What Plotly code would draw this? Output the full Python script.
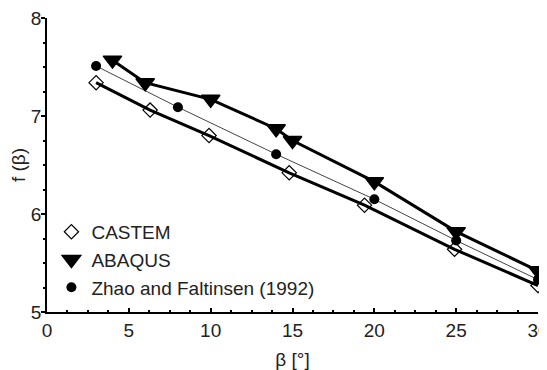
import plotly.graph_objects as go

# Data
castem_x = [3, 6.3, 9.9, 14.8, 19.4, 24.9, 30]
castem_y = [7.34, 7.06, 6.80, 6.42, 6.09, 5.64, 5.27]

abaqus_x = [4, 6, 10, 14, 15, 20, 25, 30]
abaqus_y = [7.57, 7.34, 7.17, 6.87, 6.75, 6.33, 5.82, 5.42]

zhao_x = [3, 8, 14, 20, 25, 30]
zhao_y = [7.51, 7.09, 6.61, 6.15, 5.73, 5.33]

x_ticks = [0, 5, 10, 15, 20, 25, 30]
y_ticks = [5, 6, 7, 8]

FONT = "Arial, Liberation Sans, sans-serif"

fig = go.Figure()

# Lines (no legend)
fig.add_trace(go.Scatter(x=zhao_x, y=zhao_y, mode="lines", cliponaxis=False,
                         line=dict(color="#444444", width=1), showlegend=False))
fig.add_trace(go.Scatter(x=castem_x, y=castem_y, mode="lines", cliponaxis=False,
                         line=dict(color="black", width=3), showlegend=False))
fig.add_trace(go.Scatter(x=abaqus_x, y=abaqus_y, mode="lines", cliponaxis=False,
                         line=dict(color="black", width=3), showlegend=False))

# Markers (legend)
fig.add_trace(go.Scatter(x=castem_x, y=castem_y, mode="markers", name="CASTEM", cliponaxis=False,
                         marker=dict(symbol="diamond-open", size=11, color="black",
                                     line=dict(width=1.2, color="black"))))
fig.add_trace(go.Scatter(x=abaqus_x, y=abaqus_y, mode="markers", name="ABAQUS", cliponaxis=False,
                         marker=dict(symbol="triangle-down", size=16, color="black",
                                     line=dict(width=1.5, color="black"))))
fig.add_trace(go.Scatter(x=zhao_x, y=zhao_y, mode="markers", name="Zhao and Faltinsen (1992)",
                         cliponaxis=False,
                         marker=dict(symbol="circle", size=10, color="black")))

# The page body has an 8px default margin, so the figure is sized to fit the window
fig.update_layout(
    width=539, height=362,
    margin=dict(l=39, r=9, t=10, b=58, autoexpand=False),
    paper_bgcolor="white", plot_bgcolor="white",
    font=dict(family=FONT, size=18, color="#222222"),
    showlegend=True,
    legend=dict(x=0.009, y=0.337, xanchor="left", yanchor="top",
                bgcolor="rgba(0,0,0,0)", font=dict(size=19, family=FONT, color="#222222"),
                tracegroupgap=0, itemsizing="trace"),
    xaxis=dict(range=[0, 30], tickvals=x_ticks, ticktext=[str(v) for v in x_ticks],
               automargin=False, ticklabeloverflow="allow",
               showline=True, linecolor="black", linewidth=1.5, mirror=False,
               showgrid=False, zeroline=False,
               ticks="inside", ticklen=4, tickcolor="black", tickwidth=1.5,
               minor=dict(dtick=1.25, tick0=0, ticks="inside", ticklen=2, tickcolor="black", tickwidth=1.5),
               title=dict(text="β [°]", standoff=20, font=dict(size=19)),
               tickfont=dict(size=19)),
    yaxis=dict(range=[5, 8], tickvals=y_ticks, ticktext=[str(v) for v in y_ticks],
               automargin=False, ticklabeloverflow="allow", ticklabelstandoff=-4,
               showline=True, linecolor="black", linewidth=1.5, mirror=False,
               showgrid=False, zeroline=False,
               ticks="outside", ticklen=4, tickcolor="black", tickwidth=1.5,
               minor=dict(dtick=0.25, tick0=5, ticks="outside", ticklen=2, tickcolor="black", tickwidth=1.5),
               title=dict(text="f (β)", standoff=2, font=dict(size=19)),
               tickfont=dict(size=19)),
)

fig.write_html("out.html")
